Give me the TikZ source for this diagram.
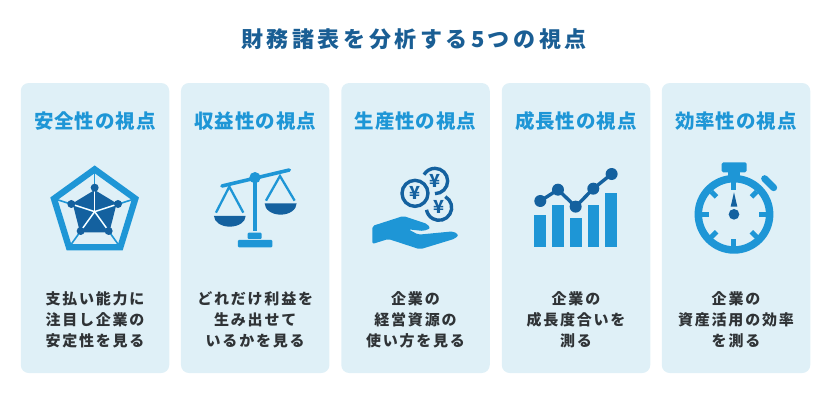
\documentclass[tikz,border=0pt]{standalone}
\usepackage{fontspec}
\newfontfamily\titleFont[LetterSpace=16]{Noto Sans CJK JP}
\newfontfamily\headFont[LetterSpace=5]{Noto Sans CJK JP}
\newfontfamily\bodyFont[LetterSpace=12]{Noto Sans CJK JP}
\newfontfamily\coinFont{Noto Sans CJK JP}
\definecolor{cardBlue}{HTML}{DFF0F7}
\definecolor{iconBlue}{HTML}{1E96D6}
\definecolor{iconDark}{HTML}{14619F}
\definecolor{titleBlue}{HTML}{1A5E94}
\definecolor{bodyGray}{HTML}{2F3336}

\begin{document}
\begin{tikzpicture}[
    x=1pt, y=-1pt,
    % Card: pale blue panel behind each column
    cardStyle/.style={
        fill=cardBlue,
        rounded corners=8pt,
        minimum width=148.5pt,
        minimum height=290pt,
        inner sep=0pt
    },
    titleStyle/.style={
        font=\titleFont\bfseries\fontsize{22}{24}\selectfont,
        text=titleBlue
    },
    headStyle/.style={
        font=\headFont\bfseries\fontsize{19.5}{22}\selectfont,
        text=iconBlue
    },
    % Body: three centred lines under the icon
    bodyStyle/.style={
        align=center,
        font=\bodyFont\bfseries\fontsize{15}{21}\selectfont,
        text=bodyGray
    },
    coinStyle/.style={
        font=\coinFont\bfseries\fontsize{18}{18}\selectfont,
        text=iconDark,
        inner sep=0pt
    },
    blueLine/.style={draw=iconBlue, line width=#1},
    darkLine/.style={draw=iconDark, line width=#1}
]
\useasboundingbox (0,0) rectangle (828,400);

%--- Title ---
\node[titleStyle] (title) at (414,39.5) {財務諸表を分析する5つの視点};

%--- Cards ---
\node[cardStyle] (safetyCard)  at (95,228)    {};
\node[cardStyle] (profitCard)  at (255.2,228) {};
\node[cardStyle] (outputCard)  at (415.5,228) {};
\node[cardStyle] (growthCard)  at (576,228)   {};
\node[cardStyle] (speedCard)   at (736,228)   {};

%--- Headings ---
\node[headStyle] (safetyHead)  at (95,121)    {安全性の視点};
\node[headStyle] (profitHead)  at (255.2,121) {収益性の視点};
\node[headStyle] (outputHead)  at (415.5,121) {生産性の視点};
\node[headStyle] (growthHead)  at (576,121)   {成長性の視点};
\node[headStyle] (speedHead)   at (736,121)   {効率性の視点};

%--- Body texts ---
\node[bodyStyle] (safetyText)  at (95,320)    {支払い能力に\\注目し企業の\\安定性を見る};
\node[bodyStyle] (profitText)  at (255.2,320) {どれだけ利益を\\生み出せて\\いるかを見る};
\node[bodyStyle] (outputText)  at (415.5,320) {企業の\\経営資源の\\使い方を見る};
\node[bodyStyle] (growthText)  at (576,320)   {企業の\\成長度合いを\\測る};
\node[bodyStyle] (speedText)   at (736,320)   {企業の\\資産活用の効率\\を測る};

%-----------------------
%        Icons
%-----------------------
% (1) Radar chart
\begin{scope}[shift={(20,140)}, x=0.3333pt, y=-0.3333pt]
  \fill[iconDark] (224,150) -- (290,190) -- (268,277) -- (180,277) -- (158,190) -- cycle;
  \foreach \tipx/\tipy in {224/88, 346/176, 301/322, 147/322, 102/176}
    \draw[blueLine=1.6pt] (224,215) -- (\tipx,\tipy);
  \foreach \tipx/\tipy in {224/143, 294/192, 266/273, 182/273, 154/192}
    \draw[draw=white, line width=1.4pt] (224,215) -- (\tipx,\tipy);
  \draw[blueLine=6.3pt, line join=miter] (224,88) -- (346,176) -- (301,322) -- (147,322) -- (102,176) -- cycle;
  \foreach \tipx/\tipy in {224/143, 294/192, 266/273, 182/273, 154/192}
    \fill[iconDark] (\tipx,\tipy) circle[radius=12];
\end{scope}

% (2) Balance scale
\begin{scope}[shift={(20,140)}, x=0.3333pt, y=-0.3333pt]
  \draw[blueLine=3.6pt, line cap=round] (606,138) -- (808,90);
  \draw[blueLine=4pt] (705,113) -- (705,272);
  \fill[iconBlue] (705,113) circle[radius=17];
  \draw[blueLine=2.3pt] (588,218) -- (628,140) -- (670,218);
  \draw[blueLine=2.3pt] (738,182) -- (780,108) -- (824,182);
  \fill[iconDark] (582,228) -- (677,228) arc[start angle=0, end angle=180, x radius=47.5, y radius=32] -- cycle;
  \fill[iconDark] (734,190) -- (830,190) arc[start angle=0, end angle=180, x radius=48, y radius=34] -- cycle;
  \fill[iconBlue, rounded corners=1pt] (683,278) rectangle (725,297);
  \fill[iconBlue, rounded corners=1pt] (654,300) rectangle (757,322);
\end{scope}

% (3) Coins over a hand
\begin{scope}[shift={(340,140)}, x=0.3333pt, y=-0.3333pt]
  \draw[darkLine=3.4pt] (225,160) circle[radius=39];
  \draw[darkLine=3.4pt] (285,161) arc[start angle=90, end angle=-150, radius=38];
  \draw[darkLine=3.4pt] (316,170) arc[start angle=-60, end angle=170, radius=38];
  \node[coinStyle] (coinA) at (225,158) {¥};
  \node[coinStyle] (coinB) at (285,122) {¥};
  \node[coinStyle] (coinC) at (296,202) {¥};
  \fill[iconBlue, rounded corners=2pt] (97,258) -- (190,228) -- (262,252) -- (271,265) -- (250,273) -- (205,268) -- (235,284) -- (340,274) -- (356,285) -- (345,296) -- (240,328) -- (145,297) -- (97,312) -- cycle;
\end{scope}

% (4) Bars with a rising line
\begin{scope}[shift={(340,140)}, x=0.3333pt, y=-0.3333pt]
  \fill[iconBlue] (583,224) rectangle (618,320);
  \fill[iconBlue] (637,195) rectangle (672,320);
  \fill[iconBlue] (690,235) rectangle (725,320);
  \fill[iconBlue] (743,195) rectangle (778,320);
  \fill[iconBlue] (796,158) rectangle (831,320);
  \draw[darkLine=3.4pt] (601,183) -- (654,149) -- (707,200) -- (760,146) -- (815,102);
  \foreach \dotx/\doty in {601/183, 654/149, 707/200, 760/146, 815/102}
    \fill[iconDark] (\dotx,\doty) circle[radius=18];
\end{scope}

% (5) Stopwatch
\begin{scope}[shift={(660,140)}, x=0.3333pt, y=-0.3333pt]
  \draw[blueLine=7.5pt] (222,223) circle[radius=107];
  \fill[iconBlue, rounded corners=1.5pt] (185,67) rectangle (260,97);
  \fill[iconBlue] (203,95) rectangle (241,112);
  \draw[blueLine=7pt, line cap=round] (314,116) -- (341,143);
  \foreach \ang in {0,45,...,315}
    \draw[blueLine=5pt] ([shift={(\ang:96)}]222,223) -- ([shift={(\ang:74)}]222,223);
  \fill[iconDark] (222,157) -- (232,200) -- (212,200) -- cycle;
  \fill[iconDark] (222,223) circle[radius=16];
\end{scope}
\end{tikzpicture}
\end{document}
